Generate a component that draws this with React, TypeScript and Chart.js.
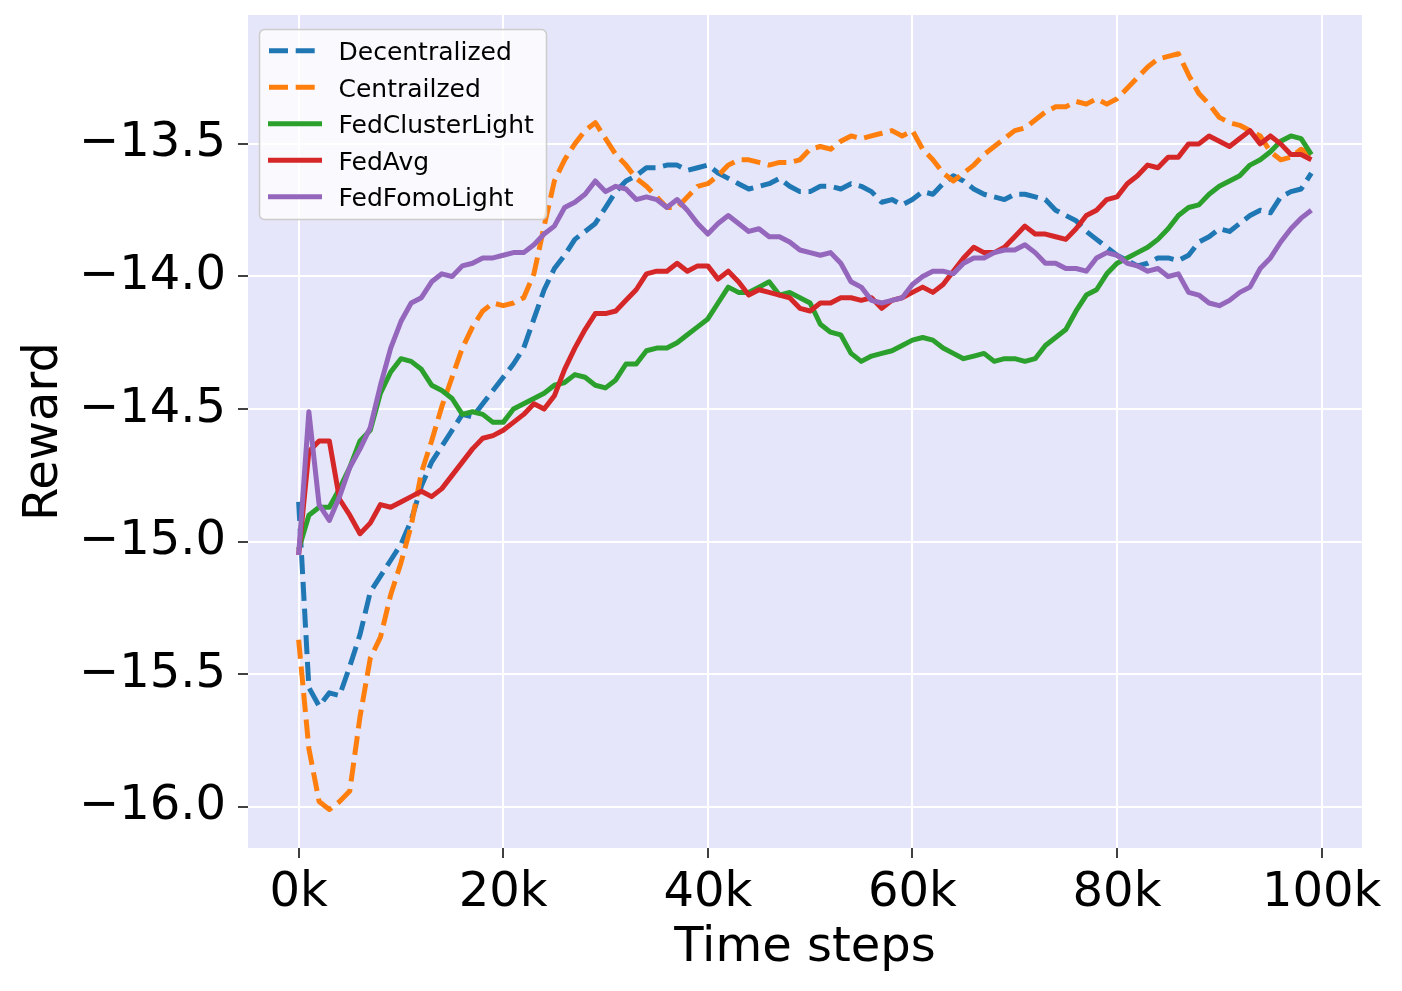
import React, { useEffect, useRef } from "react";
import { Chart, registerables } from "chart.js";

Chart.register(...registerables);

// x positions (time steps, in thousands)
const steps: number[] = Array.from({ length: 100 }, (_, i) => i);

const xTickValues = [0, 20, 40, 60, 80, 100];
const xTickLabels = ["0k", "20k", "40k", "60k", "80k", "100k"];
const yTickValues = [-16.0, -15.5, -15.0, -14.5, -14.0, -13.5];
const yTickLabels = ["\u221216.0", "\u221215.5", "\u221215.0", "\u221214.5", "\u221214.0", "\u221213.5"];

const decentralized = [
  -14.85, -15.55, -15.62, -15.57, -15.58, -15.47, -15.35, -15.19, -15.13, -15.07,
  -15.01, -14.92, -14.79, -14.70, -14.64, -14.58, -14.52, -14.53, -14.48, -14.43,
  -14.38, -14.33, -14.27, -14.16, -14.05, -13.97, -13.92, -13.86, -13.83, -13.80,
  -13.74, -13.68, -13.64, -13.62, -13.59, -13.59, -13.58, -13.58, -13.60, -13.59,
  -13.58, -13.61, -13.63, -13.65, -13.67, -13.66, -13.65, -13.63, -13.66, -13.68,
  -13.68, -13.66, -13.66, -13.67, -13.65, -13.66, -13.68, -13.72, -13.71, -13.73,
  -13.71, -13.68, -13.69, -13.65, -13.62, -13.64, -13.67, -13.69, -13.70, -13.71,
  -13.69, -13.69, -13.70, -13.71, -13.75, -13.77, -13.79, -13.83, -13.86, -13.89,
  -13.92, -13.94, -13.96, -13.95, -13.93, -13.93, -13.94, -13.92, -13.87, -13.85,
  -13.82, -13.83, -13.80, -13.77, -13.75, -13.76, -13.70, -13.68, -13.67, -13.61,
];

const centralized = [
  -15.37, -15.78, -15.98, -16.01, -15.98, -15.94, -15.66, -15.44, -15.36, -15.20,
  -15.08, -14.94, -14.74, -14.62, -14.49, -14.38, -14.27, -14.19, -14.13, -14.10,
  -14.11, -14.10, -14.08, -13.99, -13.81, -13.64, -13.56, -13.50, -13.45, -13.42,
  -13.48, -13.54, -13.58, -13.63, -13.66, -13.70, -13.74, -13.74, -13.70, -13.66,
  -13.65, -13.62, -13.58, -13.56, -13.56, -13.57, -13.58, -13.57, -13.57, -13.56,
  -13.52, -13.51, -13.52, -13.49, -13.47, -13.48, -13.47, -13.46, -13.45, -13.47,
  -13.45, -13.52, -13.56, -13.61, -13.64, -13.61, -13.58, -13.54, -13.51, -13.48,
  -13.45, -13.44, -13.41, -13.38, -13.36, -13.36, -13.34, -13.35, -13.33, -13.35,
  -13.33, -13.29, -13.25, -13.21, -13.18, -13.17, -13.16, -13.24, -13.31, -13.35,
  -13.40, -13.42, -13.43, -13.45, -13.47, -13.53, -13.56, -13.55, -13.52, -13.54,
];

const fedClusterLight = [
  -15.03, -14.90, -14.87, -14.87, -14.80, -14.72, -14.62, -14.58, -14.44, -14.36,
  -14.31, -14.32, -14.35, -14.41, -14.43, -14.46, -14.52, -14.51, -14.52, -14.55,
  -14.55, -14.50, -14.48, -14.46, -14.44, -14.41, -14.40, -14.37, -14.38, -14.41,
  -14.42, -14.39, -14.33, -14.33, -14.28, -14.27, -14.27, -14.25, -14.22, -14.19,
  -14.16, -14.10, -14.04, -14.06, -14.06, -14.04, -14.02, -14.07, -14.06, -14.08,
  -14.10, -14.18, -14.21, -14.22, -14.29, -14.32, -14.30, -14.29, -14.28, -14.26,
  -14.24, -14.23, -14.24, -14.27, -14.29, -14.31, -14.30, -14.29, -14.32, -14.31,
  -14.31, -14.32, -14.31, -14.26, -14.23, -14.20, -14.13, -14.07, -14.05, -13.99,
  -13.95, -13.93, -13.91, -13.89, -13.86, -13.82, -13.77, -13.74, -13.73, -13.69,
  -13.66, -13.64, -13.62, -13.58, -13.56, -13.53, -13.49, -13.47, -13.48, -13.54,
];

const fedAvg = [
  -15.05, -14.66, -14.62, -14.62, -14.84, -14.90, -14.97, -14.93, -14.86, -14.87,
  -14.85, -14.83, -14.81, -14.83, -14.80, -14.75, -14.70, -14.65, -14.61, -14.60,
  -14.58, -14.55, -14.52, -14.48, -14.50, -14.45, -14.35, -14.27, -14.20, -14.14,
  -14.14, -14.13, -14.09, -14.05, -13.99, -13.98, -13.98, -13.95, -13.98, -13.96,
  -13.96, -14.01, -13.98, -14.02, -14.07, -14.05, -14.06, -14.07, -14.08, -14.12,
  -14.13, -14.10, -14.10, -14.08, -14.08, -14.09, -14.08, -14.12, -14.09, -14.08,
  -14.06, -14.04, -14.06, -14.03, -13.98, -13.93, -13.89, -13.91, -13.91, -13.89,
  -13.85, -13.81, -13.84, -13.84, -13.85, -13.86, -13.82, -13.77, -13.75, -13.71,
  -13.70, -13.65, -13.62, -13.58, -13.59, -13.55, -13.55, -13.50, -13.50, -13.47,
  -13.49, -13.51, -13.48, -13.45, -13.50, -13.47, -13.50, -13.54, -13.54, -13.56,
];

const fedFomoLight = [
  -15.05, -14.51, -14.86, -14.92, -14.83, -14.72, -14.65, -14.57, -14.41, -14.27,
  -14.17, -14.10, -14.08, -14.02, -13.99, -14.00, -13.96, -13.95, -13.93, -13.93,
  -13.92, -13.91, -13.91, -13.88, -13.84, -13.81, -13.74, -13.72, -13.69, -13.64,
  -13.68, -13.66, -13.67, -13.71, -13.70, -13.71, -13.74, -13.71, -13.75, -13.80,
  -13.84, -13.80, -13.77, -13.80, -13.83, -13.82, -13.85, -13.85, -13.87, -13.90,
  -13.91, -13.92, -13.91, -13.95, -14.02, -14.04, -14.09, -14.10, -14.09, -14.08,
  -14.03, -14.00, -13.98, -13.98, -13.99, -13.95, -13.93, -13.93, -13.91, -13.90,
  -13.90, -13.88, -13.91, -13.95, -13.95, -13.97, -13.97, -13.98, -13.93, -13.91,
  -13.92, -13.95, -13.96, -13.98, -13.97, -14.00, -13.99, -14.06, -14.07, -14.10,
  -14.11, -14.09, -14.06, -14.04, -13.97, -13.93, -13.87, -13.82, -13.78, -13.75,
];

const seriesNames = ["Decentralized", "Centrailzed", "FedClusterLight", "FedAvg", "FedFomoLight"];
const seriesValues = [decentralized, centralized, fedClusterLight, fedAvg, fedFomoLight];
const seriesColors = ["#1f77b4", "#ff7f0e", "#2ca02c", "#d62728", "#9467bd"];
const seriesDashed = [true, true, false, false, false];

const FONT = "'DejaVu Sans', 'Liberation Sans', sans-serif";
const DASH = [19, 7.7];
const LINE_W = 5;

const backgroundPlugin = {
  id: "bgPlugin",
  beforeDraw(chart: any) {
    const { ctx, chartArea: a, width, height } = chart;
    ctx.save();
    ctx.fillStyle = "#ffffff";
    ctx.fillRect(0, 0, width, height);
    ctx.fillStyle = "#E6E6FA";
    ctx.fillRect(a.left, a.top, a.right - a.left, a.bottom - a.top);
    ctx.restore();
  },
};

const legendPlugin = {
  id: "boxLegend",
  afterDatasetsDraw(chart: any) {
    const { ctx, chartArea: a } = chart;
    const x0 = a.left + 11.5;
    const y0 = a.top + 14.5;
    const w = 287;
    const h = 190;
    const r = 5;
    ctx.save();
    ctx.beginPath();
    ctx.moveTo(x0 + r, y0);
    ctx.lineTo(x0 + w - r, y0);
    ctx.arcTo(x0 + w, y0, x0 + w, y0 + r, r);
    ctx.lineTo(x0 + w, y0 + h - r);
    ctx.arcTo(x0 + w, y0 + h, x0 + w - r, y0 + h, r);
    ctx.lineTo(x0 + r, y0 + h);
    ctx.arcTo(x0, y0 + h, x0, y0 + h - r, r);
    ctx.lineTo(x0, y0 + r);
    ctx.arcTo(x0, y0, x0 + r, y0, r);
    ctx.closePath();
    ctx.fillStyle = "rgba(255,255,255,0.8)";
    ctx.fill();
    ctx.lineWidth = 1.5;
    ctx.strokeStyle = "#cccccc";
    ctx.stroke();

    ctx.font = `25px ${FONT}`;
    ctx.textAlign = "left";
    ctx.textBaseline = "alphabetic";
    for (let i = 0; i < seriesNames.length; i++) {
      const ly = a.top + 35.7 + 36.5 * i;
      ctx.beginPath();
      ctx.setLineDash(seriesDashed[i] ? DASH : []);
      ctx.lineCap = "butt";
      ctx.lineWidth = LINE_W;
      ctx.strokeStyle = seriesColors[i];
      ctx.moveTo(a.left + (seriesDashed[i] ? 21 : 20), ly);
      ctx.lineTo(a.left + 74, ly);
      ctx.stroke();
      ctx.setLineDash([]);
      ctx.fillStyle = "#000000";
      ctx.fillText(seriesNames[i], a.left + 90.5, a.top + 45 + 36.5 * i);
    }
    ctx.restore();
  },
};

export default function App() {
  const canvasRef = useRef<HTMLCanvasElement | null>(null);

  useEffect(() => {
    if (!canvasRef.current) return;
    const datasets = seriesNames.map((name, i) => ({
      label: name,
      data: seriesValues[i].map((v, j) => ({ x: steps[j], y: v })),
      borderColor: seriesColors[i],
      backgroundColor: seriesColors[i],
      borderWidth: LINE_W,
      borderDash: seriesDashed[i] ? DASH : [],
      borderCapStyle: "butt" as const,
      borderJoinStyle: "round" as const,
      pointRadius: 0,
      tension: 0,
      fill: false,
      order: seriesNames.length - 1 - i,
    }));

    const chart = new Chart(canvasRef.current, {
      type: "line",
      data: { datasets },
      plugins: [backgroundPlugin, legendPlugin],
      options: {
        animation: false,
        responsive: false,
        devicePixelRatio: 1,
        layout: { padding: { left: 0, top: 15, right: 40, bottom: 0 } },
        plugins: {
          legend: { display: false },
          tooltip: { enabled: false },
        },
        scales: {
          x: {
            type: "linear",
            min: -4.95,
            max: 103.95,
            afterBuildTicks: (s: any) => {
              s.ticks = xTickValues.map((v) => ({ value: v }));
            },
            afterFit: (s: any) => {
              s.height = 143;
              s.paddingLeft = 0;
              s.paddingRight = 0;
            },
            ticks: {
              callback: (_v: any, idx: number) => xTickLabels[idx],
              font: { family: FONT, size: 48 },
              color: "#000000",
              padding: 7,
              maxRotation: 0,
              autoSkip: false,
            },
            grid: {
              color: "#ffffff",
              lineWidth: 2,
              tickColor: "#000000",
              tickLength: 10,
              tickWidth: 1.5,
            },
            border: { display: false },
            title: {
              display: true,
              text: "Time steps",
              font: { family: FONT, size: 48 },
              color: "#000000",
              padding: { top: 0, bottom: 14 },
            },
          },
          y: {
            type: "linear",
            min: -16.155,
            max: -13.014,
            afterBuildTicks: (s: any) => {
              s.ticks = yTickValues.map((v) => ({ value: v }));
            },
            afterFit: (s: any) => {
              s.width = 248;
              s.paddingTop = 0;
              s.paddingBottom = 0;
            },
            ticks: {
              callback: (_v: any, idx: number) => yTickLabels[idx],
              font: { family: FONT, size: 48 },
              color: "#000000",
              padding: 12,
              autoSkip: false,
            },
            grid: {
              color: "#ffffff",
              lineWidth: 2,
              tickColor: "#000000",
              tickLength: 10,
              tickWidth: 1.5,
            },
            border: { display: false },
            title: {
              display: true,
              text: "Reward",
              font: { family: FONT, size: 48 },
              color: "#000000",
              padding: { top: 16, bottom: 0 },
            },
          },
        },
      },
    });
    return () => chart.destroy();
  }, []);

  return (
    <div style={{ position: "absolute", left: 0, top: 0, width: 1402, height: 991, background: "#ffffff" }}>
      <canvas ref={canvasRef} width={1402} height={991} style={{ display: "block", width: 1402, height: 991 }} />
    </div>
  );
}
